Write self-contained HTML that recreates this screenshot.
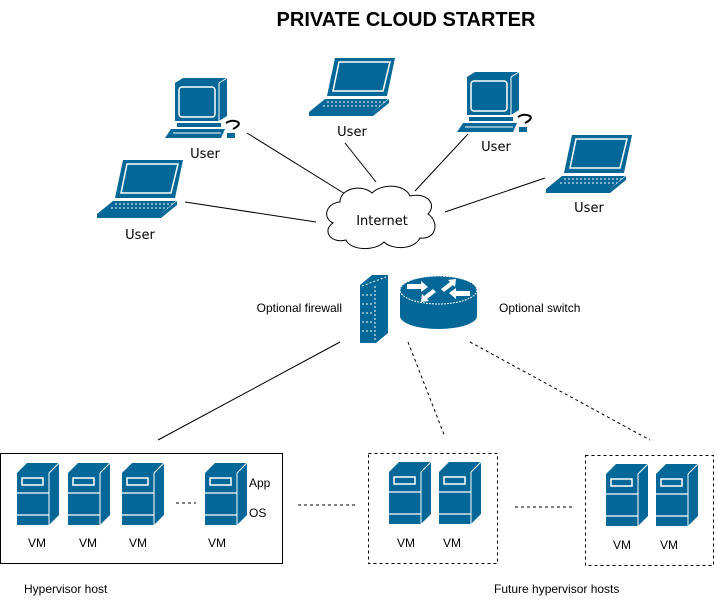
<!DOCTYPE html>
<html><head><style>
body{margin:0;background:#fff;}
svg{display:block;}
.a{font-family:"Liberation Sans",Arial,sans-serif;font-size:12px;fill:#000;}
.d{font-family:"DejaVu Sans",sans-serif;font-size:13px;fill:#000;}
</style></head><body>
<svg width="716" height="601" viewBox="0 0 716 601" xmlns="http://www.w3.org/2000/svg">
<defs>
<g id="srv">
<polygon points="0,10 10,0 42,0 32,10" fill="#036897"/>
<rect x="0" y="10" width="32" height="52" fill="#036897"/>
<polygon points="32,10 42,0 42,52 32,62" fill="#036897"/>
<line x1="32" y1="10" x2="42" y2="0" stroke="#fff" stroke-width="1"/>
<line x1="32" y1="10" x2="32" y2="62" stroke="#fff" stroke-width="1"/>
<rect x="5" y="15" width="21" height="7" fill="none" stroke="#fff" stroke-width="1.5"/>
<line x1="0" y1="30" x2="32" y2="30" stroke="#fff" stroke-width="1.2"/>
<line x1="0" y1="52" x2="32" y2="52" stroke="#fff" stroke-width="1.2"/>
</g>
<g id="lap">
<polygon points="26,0 86,0 78,38 18,38" fill="#036897"/>
<polygon points="30,4 81,4 74,33 24,33" fill="none" stroke="#fff" stroke-width="1.5"/>
<polygon points="16,41 79,41 64,54 0,54" fill="#036897"/>
<line x1="18" y1="44" x2="76" y2="44" stroke="#fff" stroke-dasharray="2,2"/>
<line x1="14" y1="48" x2="72" y2="48" stroke="#fff" stroke-dasharray="2,2"/>
<rect x="0" y="54" width="64" height="4" fill="#036897"/>
<polygon points="64,54 80,41 80,45 64,58" fill="#036897"/>
</g>
<g id="desk">
<polygon points="10,5 18,0 62,0 54,5" fill="#036897"/>
<rect x="10" y="5" width="44" height="38" fill="#036897"/>
<polygon points="54,5 62,0 62,38 54,43" fill="#036897"/>
<line x1="54" y1="5" x2="62" y2="0" stroke="#fff"/>
<line x1="54" y1="5" x2="54" y2="43" stroke="#fff"/>
<rect x="14" y="9" width="36" height="30" rx="3" fill="none" stroke="#fff" stroke-width="1.5"/>
<rect x="12" y="45" width="44" height="4" fill="#036897"/>
<polygon points="6,51 60,51 56,60 0,60" fill="#036897"/>
<line x1="8" y1="55" x2="56" y2="55" stroke="#fff"/>
<path d="M61,45 q6,-4 12,-1 q3,3 -5,7" fill="none" stroke="#000" stroke-width="2"/>
<rect x="62" y="55" width="8" height="5" fill="#036897"/>
</g>
</defs>
<text x="406" y="26" text-anchor="middle" font-family="Liberation Sans,Arial,sans-serif" font-weight="bold" font-size="20">PRIVATE CLOUD STARTER</text>

<g stroke="#000" stroke-width="1" fill="none">
<line x1="247" y1="133" x2="350" y2="197"/>
<line x1="345" y1="143" x2="376" y2="182"/>
<line x1="468" y1="134" x2="415" y2="191"/>
<line x1="545" y1="178" x2="445" y2="212"/>
<line x1="185" y1="202" x2="316" y2="222"/>
<line x1="340" y1="342" x2="158" y2="440"/>
<line x1="408" y1="342" x2="445" y2="437" stroke-dasharray="3,3"/>
<line x1="470" y1="342" x2="650" y2="440" stroke-dasharray="3,3"/>
<line x1="176" y1="503" x2="196" y2="503" stroke-dasharray="3,3"/>
<line x1="298" y1="505" x2="356" y2="505" stroke-dasharray="3,3"/>
<line x1="515" y1="507" x2="575" y2="507" stroke-dasharray="3,3"/>
<rect x="0.5" y="453.5" width="282" height="110"/>
<rect x="368.5" y="453.5" width="129" height="110" stroke-dasharray="3,3"/>
<rect x="585.5" y="455.5" width="128" height="110" stroke-dasharray="3,3"/>
<path d="M340,202 C340,188 362,184 372,193 C382,183 405,184 410,196 C428,192 437,205 428,214 C440,222 436,240 420,238 C414,250 392,250 384,242 C374,252 350,250 346,240 C330,244 322,230 333,223 C322,218 326,203 340,202 Z" fill="#fff"/>
</g>
<text x="382" y="225" text-anchor="middle" class="d">Internet</text>

<use href="#desk" x="165" y="78"/>
<text x="205" y="158" text-anchor="middle" class="d">User</text>
<use href="#lap" x="309" y="58"/>
<text x="352" y="136" text-anchor="middle" class="d">User</text>
<use href="#desk" x="457" y="72"/>
<text x="496" y="151" text-anchor="middle" class="d">User</text>
<use href="#lap" x="546" y="135"/>
<text x="589" y="212" text-anchor="middle" class="d">User</text>
<use href="#lap" x="97" y="160"/>
<text x="140" y="239" text-anchor="middle" class="d">User</text>

<!-- firewall -->
<polygon points="360,285 372,275 388,275 388,333 376,343 360,343" fill="#036897"/>
<g stroke="#fff" stroke-dasharray="2,2" stroke-width="1">
<line x1="362" y1="295" x2="374" y2="295"/><line x1="362" y1="304" x2="374" y2="304"/>
<line x1="362" y1="313" x2="374" y2="313"/><line x1="362" y1="322" x2="374" y2="322"/>
<line x1="362" y1="331" x2="374" y2="331"/><line x1="375" y1="286" x2="375" y2="342"/>
<line x1="362" y1="286" x2="386" y2="277"/>
</g>
<!-- switch -->
<rect x="400" y="290" width="77" height="26" fill="#036897"/>
<ellipse cx="438.5" cy="316" rx="38.5" ry="13" fill="#036897"/>
<ellipse cx="438.5" cy="290" rx="38.5" ry="14" fill="#036897" stroke="#fff" stroke-width="1" stroke-dasharray="2,1"/>
<g fill="#fff">
<polygon points="407,284 421,284 421,281 428,287 421,292 421,289 407,289"/>
<polygon points="470,296 456,296 456,299 449,293 456,288 456,291 470,291"/>
<polygon points="441,289 450,282 448,280 456,279 455,287 453,285 444,292"/>
<polygon points="436,292 427,299 429,301 421,302 422,294 424,296 433,289"/>
</g>
<text x="342" y="312" text-anchor="end" class="a">Optional firewall</text>
<text x="499" y="312" class="a">Optional switch</text>

<use href="#srv" x="17" y="463"/><use href="#srv" x="68" y="463"/>
<use href="#srv" x="122" y="463"/><use href="#srv" x="205" y="463"/>
<use href="#srv" x="389" y="462"/><use href="#srv" x="439" y="462"/>
<use href="#srv" x="606" y="464"/><use href="#srv" x="656" y="464"/>
<text x="37" y="547" text-anchor="middle" class="a">VM</text>
<text x="88" y="547" text-anchor="middle" class="a">VM</text>
<text x="138" y="547" text-anchor="middle" class="a">VM</text>
<text x="217" y="547" text-anchor="middle" class="a">VM</text>
<text x="249" y="487" class="a">App</text>
<text x="249" y="517" class="a">OS</text>
<text x="406" y="547" text-anchor="middle" class="a">VM</text>
<text x="452" y="547" text-anchor="middle" class="a">VM</text>
<text x="622" y="549" text-anchor="middle" class="a">VM</text>
<text x="669" y="549" text-anchor="middle" class="a">VM</text>
<text x="24" y="593" class="a">Hypervisor host</text>
<text x="494" y="593" class="a">Future hypervisor hosts</text>
</svg>
</body></html>
